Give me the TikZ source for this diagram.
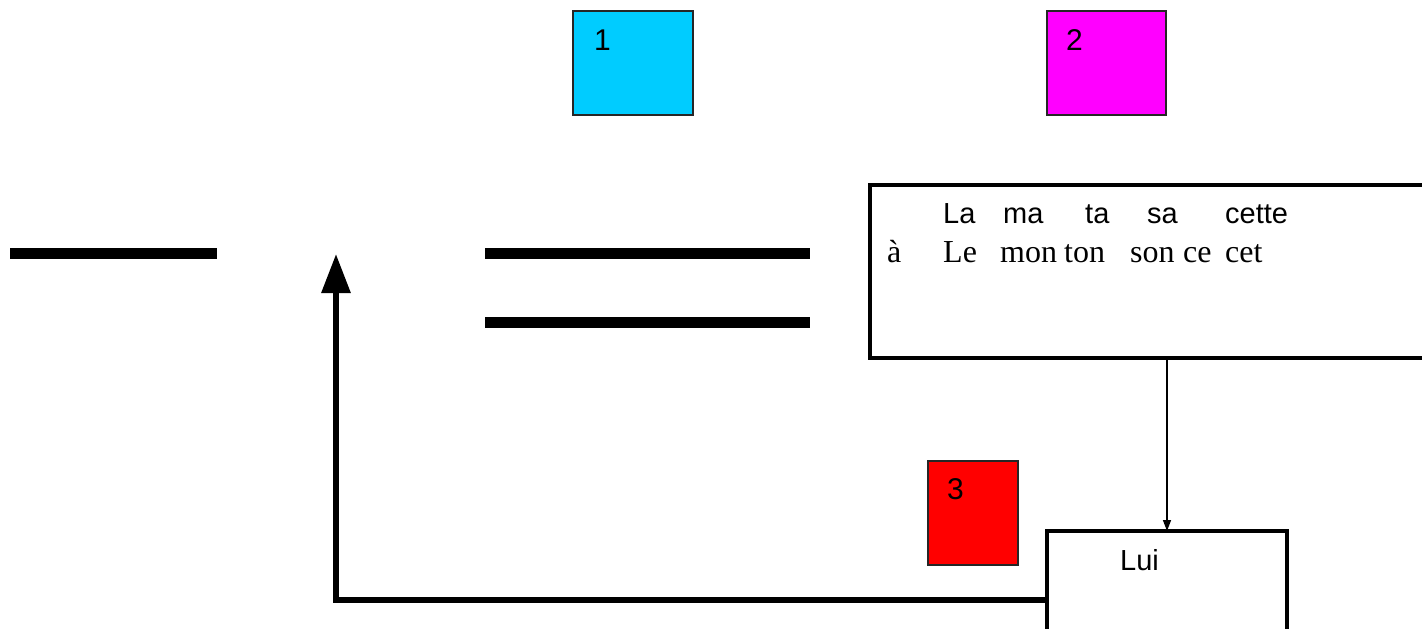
\documentclass[tikz,border=0pt]{standalone}
\usepackage{fontspec}
\setmainfont{Liberation Serif}
\setsansfont{Liberation Sans}
\usetikzlibrary{arrows.meta}
\definecolor{sqcyan}{HTML}{00CCFF}
\definecolor{sqmag}{HTML}{FF00FF}
\definecolor{sqred}{HTML}{FF0000}
\tikzset{
  sq/.style={draw=black!85, line width=1.5pt, anchor=north west, inner sep=0pt, outer sep=0pt},
  sqlabel/.style={anchor=base west, inner sep=0pt, font=\sffamily\fontsize{30}{34}\selectfont},
  sansword/.style={anchor=base west, inner sep=0pt, font=\sffamily\fontsize{29}{34}\selectfont},
  serifword/.style={anchor=base west, inner sep=0pt, font=\rmfamily\fontsize{32}{36}\selectfont},
  bigbox/.style={draw, line width=4.3pt, anchor=north west, inner sep=0pt, outer sep=0pt},
  bar/.style={line width=11pt, line cap=butt},
}
\begin{document}
\begin{tikzpicture}[x=1pt,y=-1pt]
\useasboundingbox (0,0) rectangle (1422,629);
% coloured squares
\node[sq, fill=sqcyan, minimum width=120pt, minimum height=104pt] (sq1) at (573,11) {};
\node[sqlabel] (l1) at (594,50) {1};
\node[sq, fill=sqmag, minimum width=119pt, minimum height=104pt] (sq2) at (1047,11) {};
\node[sqlabel] (l2) at (1066,50) {2};
\node[sq, fill=sqred, minimum width=90pt, minimum height=104pt] (sq3) at (928,461) {};
\node[sqlabel] (l3) at (947,499) {3};
% bars
\draw[bar] (10,253.5) -- (217,253.5);
\draw[bar] (485,253.5) -- (810,253.5);
\draw[bar] (485,322.5) -- (810,322.5);
% big text box
\node[bigbox, minimum width=565pt, minimum height=173pt] (big) at (870,184.7) {};
\node[sansword] (wLa) at (943,223) {La};
\node[sansword] (wma) at (1003,223) {ma};
\node[sansword] (wta) at (1085,223) {ta};
\node[sansword] (wsa) at (1147,223) {sa};
\node[sansword] (wcette) at (1225,223) {cette};
\node[serifword] (wa) at (887,262) {à};
\node[serifword] (wLe) at (943,262) {Le};
\node[serifword] (wmon) at (1000,262) {mon};
\node[serifword] (wton) at (1064,262) {ton};
\node[serifword] (wson) at (1130,262) {son};
\node[serifword] (wce) at (1183,262) {ce};
\node[serifword] (wcet) at (1225,262) {cet};
% Lui box
\node[bigbox, minimum width=240pt, minimum height=138pt] (lui) at (1047,531) {};
\node[sansword] (wLui) at (1120,570) {Lui};
% connectors
\draw[line width=1.5pt, -{Triangle[length=11pt,width=8pt]}] (lui.north |- big.south) -- (lui.north);
\coordinate (uptip) at (336,254);
\draw[line width=6pt, -{Triangle[length=39pt,width=28pt]}] (lui.west) -| (uptip);
\end{tikzpicture}
\end{document}
